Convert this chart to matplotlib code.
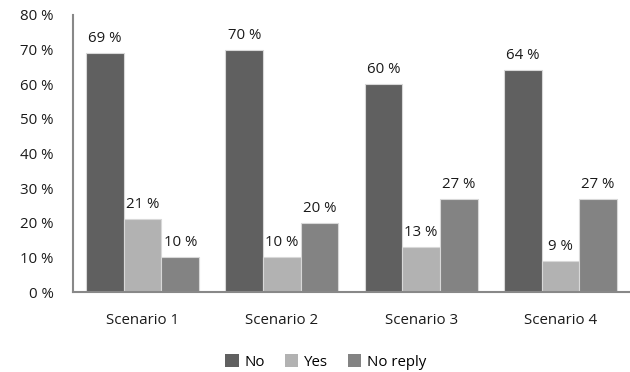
import matplotlib
matplotlib.use("Agg")
import matplotlib.pyplot as plt
import numpy as np
from matplotlib.patches import Patch

categories = ["Scenario 1", "Scenario 2", "Scenario 3", "Scenario 4"]
series_names = ["No", "Yes", "No reply"]
no_vals = [69, 70, 60, 64]
yes_vals = [21, 10, 13, 9]
noreply_vals = [10, 20, 27, 27]
y_ticks = [0, 10, 20, 30, 40, 50, 60, 70, 80]

colors = ["#606060", "#b2b2b2", "#838383"]
plt.rcParams["font.family"] = ["Open Sans", "DejaVu Sans"]
FS = 10.8

fig = plt.figure(figsize=(6.3, 3.72), dpi=100)
ax = fig.add_axes([73 / 630, 1 - 292 / 372, 557 / 630, 277 / 372])

x = np.arange(len(categories))
w = 0.27
series = [no_vals, yes_vals, noreply_vals]
for i, (vals, c) in enumerate(zip(series, colors)):
    bars = ax.bar(x + (i - 1) * w, vals, width=w, color=c,
                  edgecolor="#d8d8d8", linewidth=0.8)
    for b, v in zip(bars, vals):
        ax.annotate(f"{v} %", (b.get_x() + b.get_width() / 2, v),
                    xytext=(0, 5), textcoords="offset points",
                    ha="center", va="bottom", fontsize=FS, color="#1a1a1a")

ax.set_xlim(-0.5, len(categories) - 0.5)
ax.set_ylim(0, 80)
ax.set_yticks(y_ticks)
ax.set_yticklabels([f"{t} %" for t in y_ticks], fontsize=FS, color="#1a1a1a")
ax.set_xticks(x)
ax.set_xticklabels(categories, fontsize=FS, color="#1a1a1a")
ax.tick_params(axis="both", length=0)
ax.tick_params(axis="x", pad=15)
ax.tick_params(axis="y", pad=14)
for s in ["top", "right"]:
    ax.spines[s].set_visible(False)
for s in ["left", "bottom"]:
    ax.spines[s].set_color("#888888")
    ax.spines[s].set_linewidth(1.5)

handles = [Patch(facecolor=c, edgecolor="none") for c in colors]
fig.legend(handles, series_names, loc="center", bbox_to_anchor=(326 / 630, 1 - 362 / 372),
           ncol=3, frameon=False, fontsize=FS, handlelength=0.9, handleheight=0.9,
           handletextpad=0.4, columnspacing=1.3)

fig.savefig("out.png", dpi=100)
